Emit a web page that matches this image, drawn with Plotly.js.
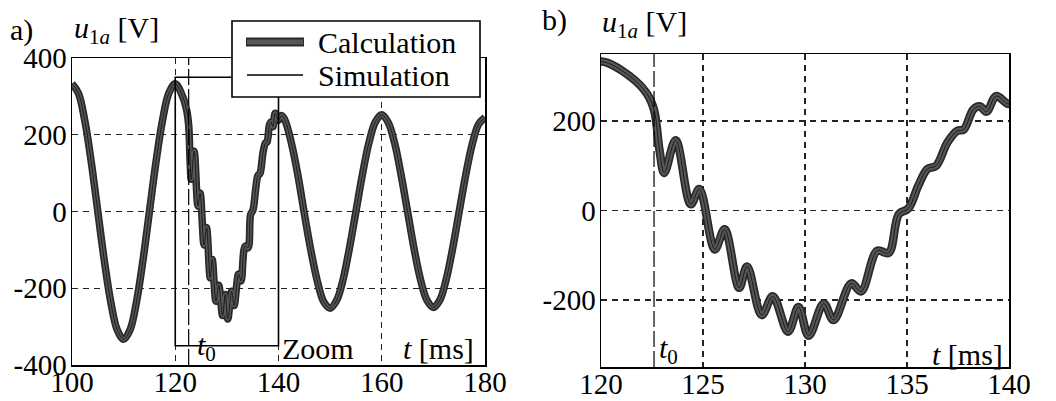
<!DOCTYPE html>
<html>
<head>
<meta charset="utf-8">
<script src="https://cdn.plot.ly/plotly-3.0.1.min.js"></script>
<style>
  html, body { margin: 0; padding: 0; background: #fff; }
  #chart { width: 1056px; height: 401px; }
</style>
</head>
<body>
<div id="chart"></div>
<script>
// ---- data (t in ms, u1a in V) ----
const tMs = [
  100, 101.25, 102.5, 103.75, 105, 106.25, 107.5, 108.75, 110, 111.25, 112.5, 113.75,
  115, 116.25, 117.5, 118.75, 120, 121.45, 122.24, 122.6,
  122.87, 123.1, 123.66, 124.4, 124.82, 125.58, 126.06, 126.77, 127.16, 127.88, 128.42,
  129.17, 129.68, 130.18, 130.92, 131.4, 132.27, 132.75, 133.54, 134.1, 134.6, 135.06,
  135.56, 136.0, 136.43, 136.98, 137.46, 137.78, 138.25, 138.57, 138.9, 139.37, 140,
  140.6, 141.25, 142.5, 143.75, 145, 146.25, 147.5, 148.75, 150, 151.25, 152.5, 153.75,
  155, 156.25, 157.5, 158.75, 160, 161.25, 162.5, 163.75, 165, 166.25, 167.5, 168.75,
  170, 171.25, 172.5, 173.75, 175, 176.25, 177.5, 178.75, 180
];
const uCalc = [
  333, 308, 235, 127, 0, -127, -235, -308, -333, -308, -235, -127,
  0, 127, 235, 308, 333, 299, 262, 225,
  134, 84, 157, 14, 48, -87, -42, -173, -125, -234, -192,
  -271, -216, -280, -208, -245, -163, -181, -90, -95, -8, 4,
  56, 93, 100, 152, 178, 181, 226, 233, 221, 256, 238,
  250, 238, 178, 95, -5, -100, -180, -235, -252, -232, -178, -95,
  0, 96, 178, 233, 252, 232, 178, 95, 0, -96, -177, -231,
  -250, -231, -176, -95, 0, 94, 174, 227, 245
];
const uSim = uCalc.slice(); // simulation coincides with the calculation

const t0 = 122.6;           // fault instant
const zoomT = [120, 140];   // zoom window (ms)
const zoomU = [-350, 350];  // zoom window (V)

const xTicksA = [100, 120, 140, 160, 180];
const yTicksA = [-400, -200, 0, 200, 400];
const yTextA  = ['-400', '-200', '0', '200', '400'];
const xTicksB = [120, 125, 130, 135, 140];
const yTicksB = [-200, 0, 200];
const yTextB  = ['-200', '0', '200'];

// ---- helpers ----
const W = 1056, H = 401;
const px = v => v / W;
const py = v => 1 - v / H;
const FONT = 'Liberation Serif, Times New Roman, serif';
const TF = 29;
const LF = 30;

function calcTraces(xa, ya, w) {
  return [
    {x: tMs, y: uCalc, xaxis: xa, yaxis: ya, mode: 'lines', name: 'Calculation',
     line: {color: '#2a2a2a', width: w, shape: 'spline'}, showlegend: false, hoverinfo: 'skip'},
    {x: tMs, y: uCalc, xaxis: xa, yaxis: ya, mode: 'lines', name: 'Calculation',
     line: {color: '#575757', width: w - 3.5, shape: 'spline'}, showlegend: false, hoverinfo: 'skip'},
    {x: tMs, y: uSim, xaxis: xa, yaxis: ya, mode: 'lines', name: 'Simulation',
     line: {color: '#1a1a1a', width: 1, shape: 'spline'}, showlegend: false, hoverinfo: 'skip'}
  ];
}

const data = [].concat(calcTraces('x', 'y', 7.5), calcTraces('x2', 'y2', 8.5));

const axBase = {
  showline: true, mirror: true, linecolor: '#000', linewidth: 1.5,
  showgrid: true, gridcolor: '#222', gridwidth: 1.2, griddash: '6px,5px',
  zeroline: false, ticks: '', tickfont: {family: FONT, size: TF, color: '#000'},
  fixedrange: true
};

const layout = {
  width: W, height: H,
  margin: {l: 0, r: 0, t: 0, b: 0},
  paper_bgcolor: '#fff', plot_bgcolor: '#fff',
  showlegend: false,
  xaxis: Object.assign({}, axBase, {domain: [px(72), px(485)], range: [100, 180],
    tickmode: 'array', tickvals: xTicksA, anchor: 'y', ticklabelstandoff: -9}),
  yaxis: Object.assign({}, axBase, {domain: [py(365), py(58)], range: [-400, 400],
    tickmode: 'array', tickvals: yTicksA, ticktext: yTextA, anchor: 'x', ticklabelstandoff: -2}),
  xaxis2: Object.assign({}, axBase, {domain: [px(601), px(1009)], range: [120, 140],
    tickmode: 'array', tickvals: xTicksB, anchor: 'y2', ticklabelstandoff: -9}),
  yaxis2: Object.assign({}, axBase, {domain: [py(367), py(54)], range: [-350, 350],
    tickmode: 'array', tickvals: yTicksB, ticktext: yTextB, anchor: 'x2', ticklabelstandoff: -2}),
  shapes: [
    // t0 markers
    {type: 'line', xref: 'x', yref: 'y', x0: t0, x1: t0, y0: -400, y1: 400,
     line: {color: '#000', width: 1.2, dash: '16px,4px'}},
    {type: 'line', xref: 'x2', yref: 'y2', x0: t0, x1: t0, y0: -350, y1: 350,
     line: {color: '#000', width: 1.2, dash: '16px,4px'}},
    // zoom window
    {type: 'rect', xref: 'x', yref: 'y', x0: zoomT[0], x1: zoomT[1], y0: zoomU[0], y1: zoomU[1],
     line: {color: '#000', width: 1.6}, fillcolor: 'rgba(0,0,0,0)'},
    // legend box
    {type: 'rect', xref: 'paper', yref: 'paper', x0: px(232), x1: px(480), y0: py(97), y1: py(21),
     line: {color: '#000', width: 1.6}, fillcolor: '#fff'},
    {type: 'line', xref: 'paper', yref: 'paper', x0: px(246), x1: px(304), y0: py(42), y1: py(42),
     line: {color: '#2a2a2a', width: 9}},
    {type: 'line', xref: 'paper', yref: 'paper', x0: px(247), x1: px(303), y0: py(42), y1: py(42),
     line: {color: '#575757', width: 5}},
    {type: 'line', xref: 'paper', yref: 'paper', x0: px(247), x1: px(303), y0: py(75), y1: py(75),
     line: {color: '#000', width: 1.5}}
  ],
  annotations: [
    {xref: 'paper', yref: 'paper', x: px(316), y: py(42), xanchor: 'left', yanchor: 'middle',
     text: 'Calculation', showarrow: false, font: {family: FONT, size: LF, color: '#000'}},
    {xref: 'paper', yref: 'paper', x: px(316), y: py(75), xanchor: 'left', yanchor: 'middle',
     text: 'Simulation', showarrow: false, font: {family: FONT, size: LF, color: '#000'}},
    {xref: 'paper', yref: 'paper', x: px(8), y: py(30), xanchor: 'left', yanchor: 'middle',
     text: 'a)', showarrow: false, font: {family: FONT, size: LF, color: '#000'}},
    {xref: 'paper', yref: 'paper', x: px(72), y: py(30), xanchor: 'left', yanchor: 'middle',
     text: '<i>u</i><sub>1<i>a</i></sub> [V]', showarrow: false, font: {family: FONT, size: LF, color: '#000'}},
    {xref: 'paper', yref: 'paper', x: px(540), y: py(20), xanchor: 'left', yanchor: 'middle',
     text: 'b)', showarrow: false, font: {family: FONT, size: LF, color: '#000'}},
    {xref: 'paper', yref: 'paper', x: px(600), y: py(24), xanchor: 'left', yanchor: 'middle',
     text: '<i>u</i><sub>1<i>a</i></sub> [V]', showarrow: false, font: {family: FONT, size: LF, color: '#000'}},
    {xref: 'x', yref: 'y', x: 140.2, y: -356, xanchor: 'left', yanchor: 'middle',
     text: 'Zoom', showarrow: false, font: {family: FONT, size: LF, color: '#000'}},
    {xref: 'x', yref: 'y', x: 178.3, y: -356, xanchor: 'right', yanchor: 'middle',
     text: '<i>t</i> [ms]', showarrow: false, font: {family: FONT, size: LF, color: '#000'}},
    {xref: 'x', yref: 'y', x: 123.9, y: -352, xanchor: 'left', yanchor: 'middle',
     text: '<i>t</i><sub>0</sub>', showarrow: false, font: {family: FONT, size: LF, color: '#000'}},
    {xref: 'x2', yref: 'y2', x: 139.8, y: -323, xanchor: 'right', yanchor: 'middle',
     text: '<i>t</i> [ms]', showarrow: false, font: {family: FONT, size: LF, color: '#000'}},
    {xref: 'x2', yref: 'y2', x: 122.75, y: -312, xanchor: 'left', yanchor: 'middle',
     text: '<i>t</i><sub>0</sub>', showarrow: false, font: {family: FONT, size: LF, color: '#000'}}
  ]
};

Plotly.newPlot('chart', data, layout, {staticPlot: true, displayModeBar: false});
</script>
</body>
</html>
